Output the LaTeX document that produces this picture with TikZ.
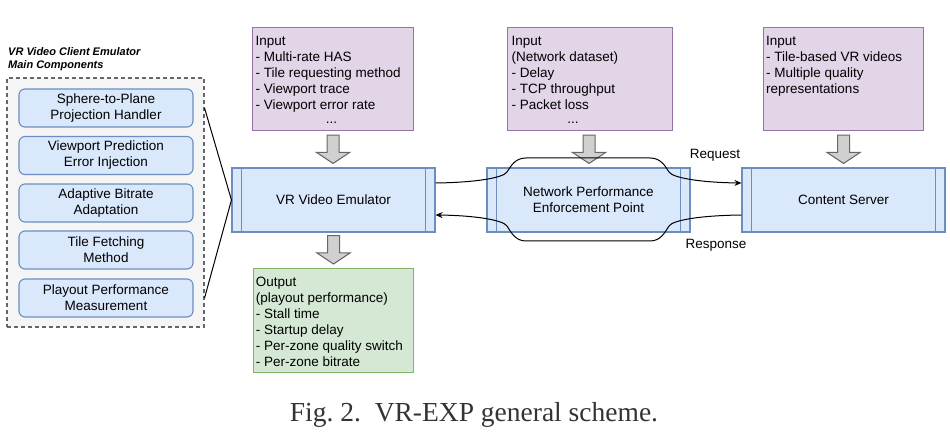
\documentclass[tikz,border=0pt]{standalone}
\usepackage{fontspec}
\newfontfamily\arial{Liberation Sans}
\newfontfamily\capserif{Liberation Serif}
\usetikzlibrary{calc,arrows.meta}
\definecolor{pfill}{HTML}{E1D5E7}\definecolor{pdraw}{HTML}{9673A6}
\definecolor{bfill}{HTML}{DAE8FC}\definecolor{bdraw}{HTML}{6C8EBF}
\definecolor{gfill}{HTML}{D5E8D4}\definecolor{gdraw}{HTML}{82B366}
\definecolor{afill}{HTML}{D0D0D0}\definecolor{adraw}{HTML}{666666}
\definecolor{grpfill}{HTML}{F5F5F5}\definecolor{grpdraw}{HTML}{666666}
\definecolor{captxt}{HTML}{333333}
\newcommand{\blockarrow}[2]{%
  \path[barrow] let \p1=#1, \p2=#2 in
    (\x1-6pt,\y1) -- (\x1+6pt,\y1) -- (\x1+6pt,\y2+11pt) -- (\x1+16.5pt,\y2+11pt)
    -- (\x1,\y2) -- (\x1-16.5pt,\y2+11pt) -- (\x1-6pt,\y2+11pt) -- cycle;}
\begin{document}
\begin{tikzpicture}[x=1pt,y=-1pt,
  txt/.style={font=\arial\fontsize{13.5}{16}\selectfont, inner sep=0pt},
  boxtxt/.style={txt, anchor=north west, align=left},
  infobox/.style={draw=pdraw, fill=pfill, line width=1.1pt, minimum width=161pt, minimum height=103pt, anchor=north west, inner sep=0pt},
  outbox/.style={draw=gdraw, fill=gfill, line width=1.1pt, minimum width=160pt, minimum height=104pt, anchor=north west, inner sep=0pt},
  process/.style={draw=bdraw, fill=bfill, line width=1.1pt, minimum width=203pt, minimum height=64pt, txt, align=center,
    path picture={\draw[bdraw, line width=1.1pt]
      ([xshift=9.5pt]path picture bounding box.north west) -- ([xshift=9.5pt]path picture bounding box.south west)
      ([xshift=-9.5pt]path picture bounding box.north east) -- ([xshift=-9.5pt]path picture bounding box.south east);}},
  comp/.style={draw=bdraw, fill=bfill, line width=1.1pt, rounded corners=6pt, minimum width=174pt, minimum height=38pt, txt, align=center},
  grp/.style={draw=grpdraw, fill=grpfill, line width=1.1pt, dash pattern=on 4pt off 3pt, minimum width=197pt, minimum height=249pt, inner sep=0pt},
  barrow/.style={draw=adraw, fill=afill, line width=1pt, line join=miter},
  conn/.style={draw=black, line width=1pt},
  tip/.style={-{Stealth[length=7pt,width=6pt]}}
]
\useasboundingbox (0,0) rectangle (950,435);

% left group
\node[font=\arial\bfseries\itshape\fontsize{11}{13}\selectfont, inner sep=0pt, anchor=north west, align=left] (title) at (8,45.9)
  {\strut VR Video Client Emulator\\Main Components};
\node[grp] (grp) at (105.5,202.5) {};
\node[comp] (b1) at (106,108) {Sphere-to-Plane\\Projection Handler};
\node[comp] (b2) at (106,155.5) {Viewport Prediction\\Error Injection};
\node[comp] (b3) at (106,203) {Adaptive Bitrate\\Adaptation};
\node[comp] (b4) at (106,250) {Tile Fetching\\Method};
\node[comp] (b5) at (106,298) {Playout Performance\\Measurement};

% main process nodes
\node[process] (emu) at (333.5,200) {VR Video Emulator};
\node[process] (npep) at (588.5,200) {Network Performance\\Enforcement Point};
\node[process] (cs) at (843.5,200) {Content Server};

% inputs / output
\node[infobox] (in1) at (252,27) {};
\node[boxtxt] (in1t) at ($(in1.north west)+(3.5,7.5)$) {\strut Input\\- Multi-rate HAS\\- Tile requesting method\\- Viewport trace\\- Viewport error rate};
\node[txt, anchor=base] (d1) at (331.5,123.5) {...};
\node[infobox, minimum width=165pt] (in2) at (507,27) {};
\node[boxtxt] (in2t) at ($(in2.north west)+(4.5,7.5)$) {\strut Input\\(Network dataset)\\- Delay\\- TCP throughput\\- Packet loss};
\node[txt, anchor=base] (d2) at (573,123.5) {...};
\node[infobox, minimum width=160pt] (in3) at (763,27) {};
\node[boxtxt] (in3t) at ($(in3.north west)+(3,7.5)$) {\strut Input\\- Tile-based VR videos\\- Multiple quality\\representations};
\node[outbox] (out) at (253,268) {};
\node[boxtxt] (outt) at ($(out.north west)+(2.7,7.5)$) {\strut Output\\(playout performance)\\- Stall time\\- Startup delay\\- Per-zone quality switch\\- Per-zone bitrate};

% block arrows
\blockarrow{($(in1.south)+(0,4)$)}{($(emu.north)+(0,-4)$)}
\blockarrow{($(emu.south)+(0,3)$)}{($(out.north)+(0,-4)$)}
\blockarrow{($(in2.south)+(-1,4)$)}{($(npep.north)+(0,-4)$)}
\blockarrow{($(in3.south)+(0,4)$)}{($(cs.north)+(0,-4)$)}

% group connectors
\draw[conn] (grp.east |- b1) -- (emu.west) -- (grp.east |- b5);

% request / response
\coordinate (rq0) at ($(emu.east)+(0,-17)$);
\coordinate (rq1) at ($(cs.west)+(0,-17)$);
\coordinate (rs0) at ($(cs.west)+(0,15)$);
\coordinate (rs1) at ($(emu.east)+(0,15)$);
\draw[conn, tip] (rq0) .. controls (475,182.5) and (503,178) .. (507,172)
  .. controls (511,166) and (515,158) .. (526,158) -- (650,158)
  .. controls (661,158) and (665,166) .. (669,172)
  .. controls (673,178) and (701,182.5) .. (rq1);
\draw[conn, tip] (rs0) .. controls (701,215.5) and (673,220) .. (669,226)
  .. controls (665,232) and (661,241) .. (650,241) -- (526,241)
  .. controls (515,241) and (511,232) .. (507,226)
  .. controls (503,220) and (475,215.5) .. (rs1);
\node[txt] (req) at (715,155) {Request};
\node[txt] (resp) at (716,245) {Response};

% caption
\node[font=\capserif\fontsize{27.5}{32}\selectfont, text=captxt, anchor=base, inner sep=0pt] (cap) at (474,421) {Fig.\ 2.\ \ VR-EXP general scheme.};
\end{tikzpicture}
\end{document}
